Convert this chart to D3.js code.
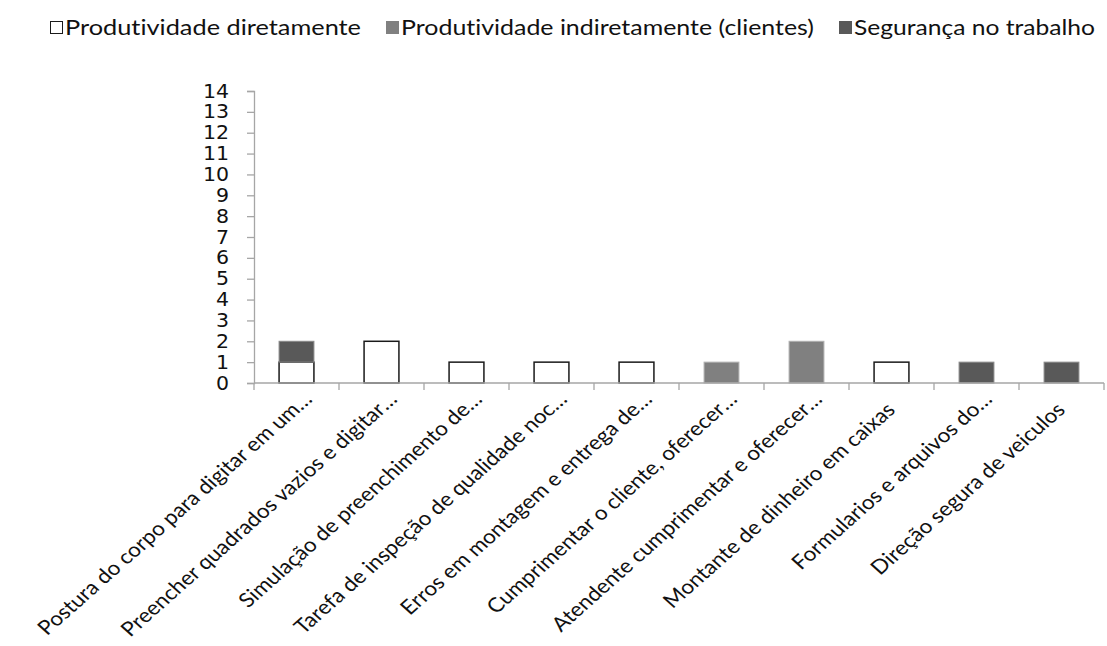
<!DOCTYPE html>
<html>
<head>
<meta charset="utf-8">
<script src="https://cdn.jsdelivr.net/npm/d3@7/dist/d3.min.js"></script>
<style>
  html, body { margin: 0; padding: 0; background: #ffffff; }
  svg { display: block; }
  text { font-variant-ligatures: none; }
</style>
</head>
<body>
<svg id="chart" width="1107" height="646"></svg>
<script>
// Activity names (truncated as shown on the axis)
const categories = [
  "Postura do corpo para digitar em um…",
  "Preencher quadrados vazios e digitar …",
  "Simulação de preenchimento de…",
  "Tarefa de inspeção de qualidade noc…",
  "Erros em montagem e entrega de…",
  "Cumprimentar o cliente, oferecer …",
  "Atendente cumprimentar e oferecer …",
  "Montante de dinheiro em caixas",
  "Formularios e arquivos do…",
  "Direção segura de veiculos"
];

// Series names
const seriesNames = [
  "Produtividade diretamente",
  "Produtividade indiretamente (clientes)",
  "Segurança no trabalho"
];

// Counts per activity, one array per series
const produtividadeDireta   = [1, 2, 1, 1, 1, 0, 0, 1, 0, 0];
const produtividadeIndireta = [0, 0, 0, 0, 0, 1, 2, 0, 0, 0];
const segurancaTrabalho     = [1, 0, 0, 0, 0, 0, 0, 0, 1, 1];

// Y axis tick values
const yTicks = [0, 1, 2, 3, 4, 5, 6, 7, 8, 9, 10, 11, 12, 13, 14];

const fills   = ["#ffffff", "#808080", "#595959"];
const strokes = ["#1a1a1a", "#b0b0b0", "#8a8a8a"];
const strokeW = [1.5, 1, 1];

// Legend text widths (wide legend font)
const legendWidths = [296, 413, 241];

// The whole chart is drawn slightly wide; text gets the same horizontal stretch
const stretchX = 1.13;

const svg = d3.select("#chart");

const plot = { left: 254, right: 1104, top: 91, bottom: 383 };

const x = d3.scaleBand()
  .domain(categories)
  .range([plot.left, plot.right])
  .paddingInner(0.59)
  .paddingOuter(0.295);

const y = d3.scaleLinear()
  .domain([0, 14])
  .range([plot.bottom, plot.top]);

// Build stacked table
const table = categories.map((c, i) => ({
  cat: c,
  s0: produtividadeDireta[i],
  s1: produtividadeIndireta[i],
  s2: segurancaTrabalho[i]
}));
const stack = d3.stack().keys(["s0", "s1", "s2"]);
const layers = stack(table);

// Bars
const gBars = svg.append("g");
layers.forEach((layer, li) => {
  gBars.append("g")
    .selectAll("rect")
    .data(layer.filter(d => d[1] - d[0] > 0))
    .join("rect")
    .attr("x", d => x(d.data.cat))
    .attr("width", x.bandwidth())
    .attr("y", d => y(d[1]))
    .attr("height", d => y(d[0]) - y(d[1]))
    .attr("fill", fills[li])
    .attr("stroke", strokes[li])
    .attr("stroke-width", strokeW[li]);
});

// Y axis
const yAxis = d3.axisLeft(y)
  .tickValues(yTicks)
  .tickFormat(d3.format("d"))
  .tickSize(7)
  .tickPadding(18);

const gy = svg.append("g")
  .attr("transform", `translate(${plot.left},0)`)
  .call(yAxis);
gy.select(".domain").attr("stroke", "#a6a6a6").attr("stroke-width", 1.3);
gy.selectAll(".tick line").attr("stroke", "#a6a6a6").attr("stroke-width", 1.3);
gy.selectAll(".tick text")
  .attr("font-family", "DejaVu Sans, Verdana, sans-serif")
  .attr("font-size", 19)
  .attr("fill", "#111")
  .attr("x", null)
  .attr("transform", `translate(-25,0) scale(1.08,1)`);

// X axis line with tick marks on category boundaries
const boundaries = categories.map((c, i) => plot.left + i * x.step());
boundaries.push(plot.right);

const gx = svg.append("g");
gx.append("line")
  .attr("x1", plot.left).attr("x2", plot.right)
  .attr("y1", y(0)).attr("y2", y(0))
  .attr("stroke", "#a6a6a6").attr("stroke-width", 1.3);
gx.selectAll("line.tk")
  .data(boundaries)
  .join("line")
  .attr("class", "tk")
  .attr("x1", d => d).attr("x2", d => d)
  .attr("y1", y(0)).attr("y2", y(0) + 7)
  .attr("stroke", "#a6a6a6").attr("stroke-width", 1.3);

// Rotated category labels; the ellipsis of truncated names hangs past the anchor
const labelFont = "Lato, 'Open Sans', sans-serif";
const labelSize = 20;
const lab = gx.selectAll("g.lab")
  .data(categories)
  .join("g")
  .attr("class", "lab")
  .attr("transform", d =>
    `translate(${x(d) + x.bandwidth() / 2 + 5},${y(0) + 28}) scale(${stretchX},1) rotate(-45)`);

lab.append("text")
  .attr("text-anchor", "end")
  .attr("font-family", labelFont)
  .attr("font-size", labelSize)
  .attr("fill", "#111")
  .text(d => d.endsWith("…") ? d.slice(0, -1) : d);

lab.filter(d => d.endsWith("…"))
  .append("text")
  .attr("text-anchor", "start")
  .attr("font-family", labelFont)
  .attr("font-size", labelSize)
  .attr("fill", "#111")
  .text("…");

// Legend
const legend = svg.append("g").attr("transform", "translate(50,0)");
let lx = 0;
seriesNames.forEach((name, i) => {
  const g = legend.append("g").attr("transform", `translate(${lx},0)`);
  g.append("rect")
    .attr("x", 0.5).attr("y", 21.5)
    .attr("width", 12).attr("height", 12)
    .attr("fill", fills[i])
    .attr("stroke", i === 0 ? "#1a1a1a" : fills[i])
    .attr("stroke-width", 1);
  g.append("text")
    .attr("x", 15)
    .attr("y", 35)
    .attr("font-family", labelFont)
    .attr("font-size", 21)
    .attr("fill", "#111")
    .attr("textLength", legendWidths[i])
    .attr("lengthAdjust", "spacingAndGlyphs")
    .text(name);
  lx += 15 + legendWidths[i] + 25;
});
</script>
</body>
</html>
